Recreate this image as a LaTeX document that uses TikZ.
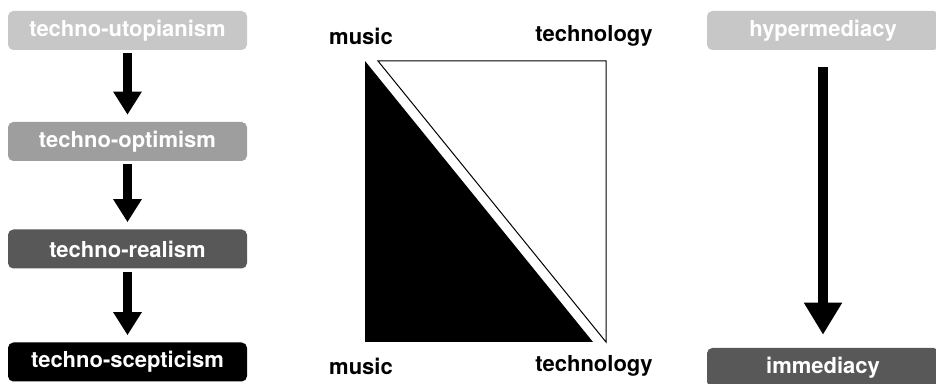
\documentclass[tikz,border=0pt]{standalone}
\usepackage{fontspec}
\setmainfont{TeX Gyre Heros}
\usepackage{xcolor}
\usetikzlibrary{positioning, arrows.meta}

\definecolor{paleGray}{HTML}{C7C7C7}
\definecolor{midGray}{HTML}{9E9E9E}
\definecolor{darkGray}{HTML}{585858}

\begin{document}
\begin{tikzpicture}[x=0.75pt, y=-0.75pt,
    box/.style={rounded corners=4pt, inner sep=0pt, text=white,
      minimum width=179.25pt, minimum height=29.25pt,
      font=\fontsize{16.5}{20}\selectfont\bfseries},
    label/.style={font=\fontsize{16.5}{20}\selectfont\bfseries},
    fatarrow/.style={line width=6.75pt,
      -{Triangle[width=20.25pt, length=17.25pt]},
      shorten <=2.25pt, shorten >=5.25pt},
    longarrow/.style={line width=7.5pt,
      -{Triangle[width=27pt, length=24pt]},
      shorten <=12.75pt, shorten >=9.75pt}]
        \useasboundingbox (0,0) rectangle (936,384);

        % Left column: attitudes towards technology
        \node[box, fill=paleGray] (utopia) at (127.5,30.5) {techno-utopianism};
        \node[box, fill=midGray] (optimism) at (127.5,141.5) {techno-optimism};
        \node[box, fill=darkGray] (realism) at (127.5,249) {techno-realism};
        \node[box, fill=black] (scepticism) at (127.5,362) {techno-scepticism};

        \draw[fatarrow] (utopia.south) -- (optimism.north);
        \draw[fatarrow] (optimism.south) -- (realism.north);
        \draw[fatarrow] (realism.south) -- (scepticism.north);

        % Middle: music vs technology
        \fill (365,61) -- (365,342) -- (593,342) -- cycle;
        \draw[line width=0.75pt] (378,61) -- (606,61) -- (606,342) -- cycle;
        \node[label] (musicTop) at (361,36) {music};
        \node[label] (techTop) at (594,36) {technology};
        \node[label] (musicBot) at (361,366) {music};
        \node[label] (techBot) at (594,366) {technology};

        % Right column: mediacy
        \node[box, fill=paleGray, minimum width=174pt] (hyper) at (823,30.5) {hypermediacy};
        \node[box, fill=darkGray, minimum width=174pt] (immed) at (823,367.5) {immediacy};

        \draw[longarrow] (hyper.south) -- (immed.north);
\end{tikzpicture}
\end{document}
